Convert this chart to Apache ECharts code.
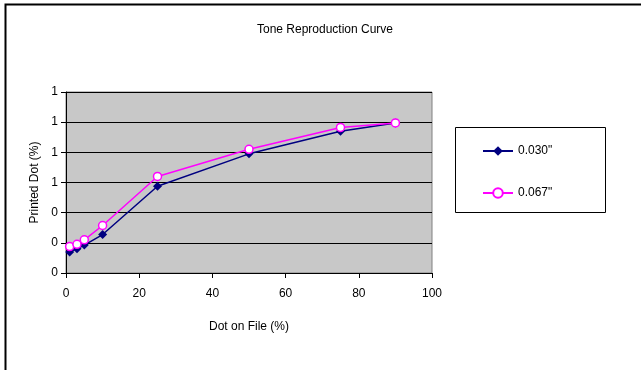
<!DOCTYPE html>
<html>
<head>
<meta charset="utf-8">
<script src="https://cdn.jsdelivr.net/npm/echarts@6/dist/echarts.min.js"></script>
<style>
  html, body { margin: 0; padding: 0; background: #fff; }
  #main { width: 641px; height: 370px; }
</style>
</head>
<body>
<div id="main"></div>
<script>
  // dot on file (%)
  const dotOnFile = [1, 3, 5, 10, 25, 50, 75, 90]
  // printed dot, two screens
  const thin030 = [0.14, 0.16, 0.185, 0.255, 0.575, 0.79, 0.94, 0.995]
  const thin067 = [0.175, 0.19, 0.22, 0.315, 0.64, 0.82, 0.965, 0.995]
  const seriesNames = ['0.030"', '0.067"']

  const pair = (xs, ys) => xs.map((x, i) => [x, ys[i]])
  const font = 'Liberation Sans, Arial, sans-serif'

  let chart = echarts.init(document.getElementById('main'))
  chart.setOption({
    animation: false,
    backgroundColor: '#fff',
    title: {
      text: 'Tone Reproduction Curve',
      left: 320,
      textAlign: 'center',
      top: 19,
      textStyle: { fontFamily: font, fontSize: 12, fontWeight: 'normal', color: '#000' },
    },
    grid: {
      left: 66, right: 209, top: 92, bottom: 97,
      show: true,
      backgroundColor: '#c8c8c8',
      borderColor: '#808080',
      borderWidth: 1,
    },
    legend: {
      orient: 'vertical',
      left: 477,
      top: 140,
      itemWidth: 30,
      itemHeight: 12,
      itemGap: 30,
      textStyle: { fontFamily: font, fontSize: 12, color: '#000' },
      data: seriesNames,
    },
    xAxis: {
      type: 'value',
      min: 0, max: 100, interval: 20,
      name: 'Dot on File (%)',
      nameLocation: 'middle',
      nameGap: 48,
      nameTextStyle: { fontFamily: font, fontSize: 12, color: '#000' },
      axisLine: { lineStyle: { color: '#000', width: 1 } },
      axisTick: { show: true, length: 5, lineStyle: { color: '#000' } },
      axisLabel: { fontFamily: font, fontSize: 12, color: '#000', margin: 15 },
      splitLine: { show: false },
    },
    yAxis: {
      type: 'value',
      min: 0, max: 1.2, interval: 0.2,
      name: 'Printed Dot (%)',
      nameLocation: 'middle',
      nameGap: 25,
      nameTextStyle: { fontFamily: font, fontSize: 12, color: '#000' },
      axisLine: { show: true, lineStyle: { color: '#000', width: 1 } },
      axisTick: { show: true, length: 5, lineStyle: { color: '#000' } },
      axisLabel: {
        fontFamily: font, fontSize: 12, color: '#000', margin: 8,
        formatter: (v) => Math.round(v).toString(),
      },
      splitLine: { show: true, lineStyle: { color: '#000', width: 1 } },
    },
    graphic: [
      // box round the legend
      {
        type: 'rect', z: -1,
        shape: { x: 455.5, y: 127.5, width: 150, height: 85 },
        style: { fill: '#fff', stroke: '#000', lineWidth: 1 },
      },
      // outer frame, top and left only
      {
        type: 'polyline',
        shape: { points: [[5.5, 370], [5.5, 4.5], [641, 4.5]] },
        style: { fill: null, stroke: '#000', lineWidth: 2 },
      },
    ],
    series: [
      {
        name: seriesNames[0],
        type: 'line',
        data: pair(dotOnFile, thin030),
        symbol: 'diamond',
        symbolSize: 9,
        itemStyle: { color: '#000080' },
        lineStyle: { color: '#000080', width: 1.5 },
      },
      {
        name: seriesNames[1],
        type: 'line',
        data: pair(dotOnFile, thin067),
        symbol: 'circle',
        symbolSize: 8,
        itemStyle: { color: '#fff', borderColor: '#ff00ff', borderWidth: 1.5 },
        lineStyle: { color: '#ff00ff', width: 1.5 },
      },
    ],
  })
</script>
</body>
</html>
